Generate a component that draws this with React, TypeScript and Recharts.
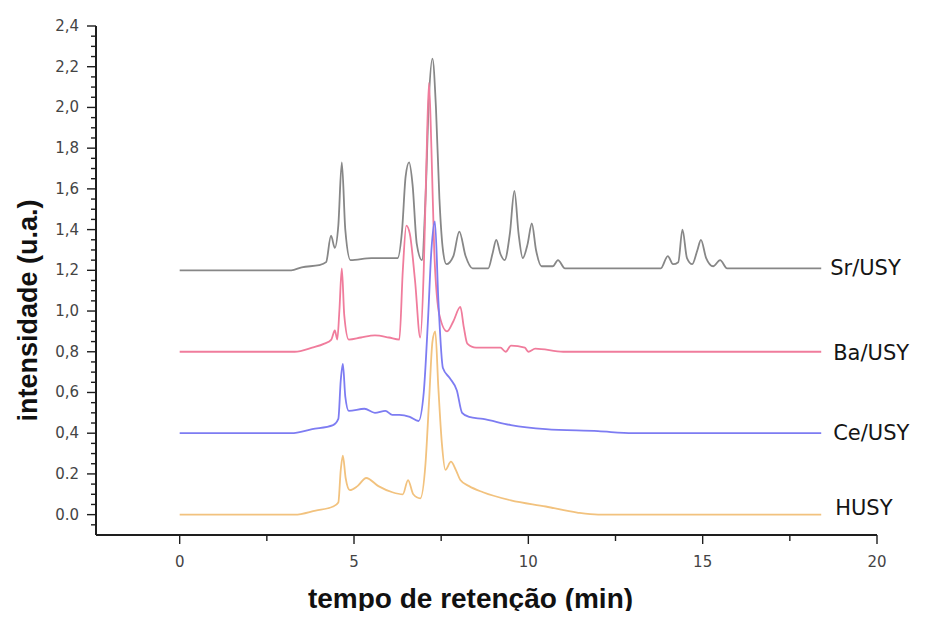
import React from 'react';
import { LineChart, Line, XAxis, YAxis } from 'recharts';

// Retention time (min) and intensity (a.u.) for each catalyst, stacked by baseline offset
const srTime = [0, 3.2, 3.5, 4.0, 4.2, 4.34, 4.45, 4.55, 4.65, 4.75, 4.9, 5.5, 6.25, 6.38, 6.48, 6.58, 6.68, 6.8, 6.95, 7.05, 7.15, 7.25, 7.35, 7.45, 7.55, 7.65, 7.85, 8.02, 8.2, 8.4, 8.85, 8.97, 9.08, 9.2, 9.32, 9.47, 9.6, 9.72, 9.84, 9.98, 10.1, 10.22, 10.38, 10.7, 10.85, 11.05, 11.5, 13.8, 14.0, 14.15, 14.3, 14.42, 14.55, 14.7, 14.85, 14.95, 15.1, 15.3, 15.5, 15.7, 16.0, 18.4];
const srIntensity = [1.2, 1.2, 1.215, 1.225, 1.24, 1.37, 1.31, 1.42, 1.73, 1.4, 1.25, 1.26, 1.26, 1.4, 1.66, 1.73, 1.62, 1.33, 1.25, 1.55, 2.05, 2.24, 2.0, 1.55, 1.3, 1.23, 1.27, 1.39, 1.27, 1.21, 1.21, 1.28, 1.35, 1.28, 1.25, 1.38, 1.59, 1.38, 1.26, 1.33, 1.43, 1.3, 1.22, 1.22, 1.25, 1.21, 1.21, 1.21, 1.27, 1.23, 1.24, 1.4, 1.26, 1.23, 1.3, 1.35, 1.26, 1.22, 1.25, 1.21, 1.21, 1.21];

const baTime = [0, 3.3, 3.8, 4.15, 4.35, 4.45, 4.52, 4.58, 4.65, 4.72, 4.85, 5.2, 5.6, 6.0, 6.3, 6.4, 6.5, 6.6, 6.75, 6.9, 7.0, 7.08, 7.15, 7.22, 7.3, 7.45, 7.67, 7.85, 8.05, 8.15, 8.25, 8.5, 9.2, 9.35, 9.5, 9.9, 10.0, 10.2, 11.0, 18.4];
const baIntensity = [0.8, 0.8, 0.82, 0.84, 0.86, 0.905, 0.86, 1.0, 1.21, 0.98, 0.86, 0.87, 0.88, 0.87, 0.86, 1.2, 1.42, 1.38, 1.15, 0.87, 1.2, 1.75, 2.12, 1.8, 1.3, 0.98, 0.9, 0.95, 1.02, 0.92, 0.84, 0.82, 0.82, 0.8, 0.83, 0.82, 0.8, 0.815, 0.8, 0.8];

const ceTime = [0, 3.2, 3.8, 4.4, 4.55, 4.62, 4.68, 4.75, 4.85, 5.3, 5.6, 5.9, 6.1, 6.3, 6.6, 6.85, 7.0, 7.12, 7.22, 7.32, 7.42, 7.55, 7.75, 7.95, 8.1, 8.3, 8.7, 9.5, 10.5, 12.0, 13.0, 18.4];
const ceIntensity = [0.4, 0.4, 0.42, 0.44, 0.47, 0.66, 0.74, 0.58, 0.51, 0.52, 0.5, 0.51, 0.49, 0.49, 0.48, 0.46, 0.6, 0.95, 1.3, 1.44, 1.05, 0.72, 0.67, 0.61, 0.5, 0.48, 0.47, 0.44, 0.42, 0.41, 0.4, 0.4];

const husyTime = [0, 3.3, 3.9, 4.4, 4.55, 4.62, 4.68, 4.76, 4.88, 5.1, 5.35, 5.7, 6.1, 6.4, 6.55, 6.7, 6.9, 7.05, 7.15, 7.25, 7.33, 7.42, 7.52, 7.62, 7.78, 7.92, 8.05, 8.3, 8.7, 9.5, 10.5, 11.4, 12.0, 18.4];
const husyIntensity = [0, 0, 0.02, 0.04, 0.06, 0.22, 0.29, 0.18, 0.12, 0.14, 0.18, 0.14, 0.11, 0.1, 0.17, 0.1, 0.08, 0.25, 0.55, 0.85, 0.9, 0.62, 0.35, 0.22, 0.26, 0.22, 0.17, 0.14, 0.11, 0.07, 0.04, 0.01, 0, 0];

const seriesNames = ['Sr/USY', 'Ba/USY', 'Ce/USY', 'HUSY'];

const xTicks = [0, 2.5, 5, 7.5, 10, 12.5, 15, 17.5, 20];
const xMajorTicks = [0, 5, 10, 15, 20];
const xTickLabels = ['0', '5', '10', '15', '20'];

const yMajorTicks = [0, 0.2, 0.4, 0.6, 0.8, 1.0, 1.2, 1.4, 1.6, 1.8, 2.0, 2.2, 2.4];
const yTickLabels = ['0.0', '0.2', '0,4', '0,6', '0,8', '1,0', '1,2', '1,4', '1,6', '1,8', '2,0', '2,2', '2,4'];

// minor ticks every 0.05 along the intensity axis
const yTicks = Array.from({ length: 50 }, (_, i) => Math.round((-0.05 + i * 0.05) * 100) / 100);

const toPoints = (xs: number[], ys: number[]) => xs.map((x, i) => ({ x, y: ys[i] }));

const series = [
  { name: seriesNames[0], data: toPoints(srTime, srIntensity), color: '#878787', labelDx: 9, labelDy: 0 },
  { name: seriesNames[1], data: toPoints(baTime, baIntensity), color: '#f07c9c', labelDx: 12, labelDy: 1 },
  { name: seriesNames[2], data: toPoints(ceTime, ceIntensity), color: '#7d7cf2', labelDx: 12, labelDy: 0 },
  { name: seriesNames[3], data: toPoints(husyTime, husyIntensity), color: '#f2c27e', labelDx: 14, labelDy: -7 },
];

const axisColor = '#1e1e1e';
const tickFont = '"DejaVu Sans", Verdana, sans-serif';

const YTick = (props: any) => {
  const { x, y, payload } = props;
  const idx = yMajorTicks.findIndex((t) => Math.abs(t - payload.value) < 1e-6);
  const major = idx >= 0;
  return (
    <g>
      <line x1={x - (major ? 9 : 5)} x2={x} y1={y} y2={y} stroke={axisColor} strokeWidth={1.4} />
      {major && (
        <text x={x - 17} y={y} textAnchor="end" dominantBaseline="central" fontSize={15} fontFamily={tickFont} fill="#444">
          {yTickLabels[idx]}
        </text>
      )}
    </g>
  );
};

const XTick = (props: any) => {
  const { x, y, payload } = props;
  const idx = xMajorTicks.findIndex((t) => Math.abs(t - payload.value) < 1e-6);
  const major = idx >= 0;
  return (
    <g>
      <line x1={x} x2={x} y1={y} y2={y + (major ? 9 : 6)} stroke={axisColor} strokeWidth={1.4} />
      {major && (
        <text x={x} y={y + 27} textAnchor="middle" dominantBaseline="central" fontSize={15} fontFamily={tickFont} fill="#444">
          {xTickLabels[idx]}
        </text>
      )}
    </g>
  );
};

const YTitle = (props: any) => {
  const vb = props.viewBox;
  const cx = vb.x + 28;
  const cy = vb.y + vb.height / 2 + 30;
  return (
    <text
      x={cx}
      y={cy}
      transform={`rotate(-90, ${cx}, ${cy})`}
      textAnchor="middle"
      dominantBaseline="central"
      fontSize={27}
      fontWeight="bold"
      fontFamily='"Liberation Sans", Arial, sans-serif'
      fill="#111"
    >
      intensidade (u.a.)
    </text>
  );
};

const XTitle = (props: any) => {
  const vb = props.viewBox;
  return (
    <text
      x={vb.x + vb.width / 2 - 16}
      y={vb.y + 73}
      textAnchor="middle"
      fontSize={28}
      fontWeight="bold"
      fontFamily='"Liberation Sans", Arial, sans-serif'
      fill="#111"
    >
      tempo de retenção (min)
    </text>
  );
};

const endLabel = (s: (typeof series)[number]) => (p: any) => {
  if (p.index !== s.data.length - 1) return null;
  return (
    <text
      x={p.x + s.labelDx}
      y={p.y + s.labelDy}
      dominantBaseline="central"
      fontSize={21}
      fontFamily={tickFont}
      fill="#151515"
    >
      {s.name}
    </text>
  );
};

export default function App() {
  return (
    <div style={{ margin: -8, width: 925, height: 619, background: '#fff' }}>
      <LineChart width={925} height={619} margin={{ top: 26, right: 48, left: 0, bottom: 0 }}>
        <XAxis
          type="number"
          dataKey="x"
          domain={[-2.4, 20]}
          ticks={xTicks}
          interval={0}
          allowDataOverflow
          height={84}
          tickSize={0}
          tickMargin={0}
          tickLine={false}
          tick={<XTick />}
          axisLine={{ stroke: axisColor, strokeWidth: 2 }}
          label={<XTitle />}
        />
        <YAxis
          type="number"
          domain={[-0.1, 2.4]}
          ticks={yTicks}
          interval={0}
          allowDataOverflow
          width={96}
          tickSize={0}
          tickMargin={0}
          tickLine={false}
          tick={<YTick />}
          axisLine={{ stroke: axisColor, strokeWidth: 2 }}
          label={<YTitle />}
        />
        {series.map((s) => (
          <Line
            key={s.name}
            data={s.data}
            dataKey="y"
            type="monotone"
            stroke={s.color}
            strokeWidth={1.8}
            dot={false}
            activeDot={false}
            isAnimationActive={false}
            label={endLabel(s)}
          />
        ))}
      </LineChart>
    </div>
  );
}
